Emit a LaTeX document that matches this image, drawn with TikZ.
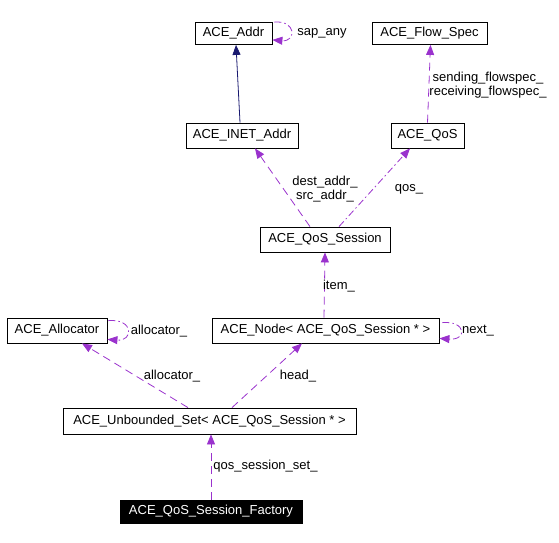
\documentclass[tikz,border=0pt]{standalone}
\usepackage{fontspec}
\setmainfont{Liberation Sans}
\usetikzlibrary{positioning, arrows.meta}
\definecolor{usecol}{HTML}{9A32CD}
\definecolor{inhcol}{HTML}{191970}

\begin{document}
\begin{tikzpicture}[x=1pt, y=-1pt,
        every node/.style={font=\fontsize{13}{14}\selectfont},
        cls/.style={draw, rectangle, inner sep=0pt, minimum height=25pt, line width=0.8pt},
        lbl/.style={inner sep=0pt, align=center},
        inh/.style={inhcol, line width=0.8pt, -{Triangle[length=10pt, width=8pt]}},
        uses/.style={usecol, line width=0.8pt, dash pattern=on 8pt off 5pt, -{Triangle[length=10pt, width=8pt]}},
        usesdot/.style={uses, dash pattern=on 7pt off 3pt on 1.5pt off 3pt}]
        \useasboundingbox (0,0) rectangle (559,542);

        \node[cls, minimum width=77pt, minimum height=22pt] (addr) at (233.5,33.5) {ACE\_Addr};
        \node[cls, minimum width=115pt, minimum height=22pt] (flow) at (429.5,33.5) {ACE\_Flow\_Spec};
        \node[cls, minimum width=112pt] (inet) at (242,135.5) {ACE\_INET\_Addr};
        \node[cls, minimum width=73pt] (qos) at (427.5,135.5) {ACE\_QoS};
        \node[cls, minimum width=130pt] (sess) at (325,239.5) {ACE\_QoS\_Session};
        \node[cls, minimum width=100pt] (alloc) at (57,330.5) {ACE\_Allocator};
        \node[cls, minimum width=227pt] (node) at (325.5,330.5) {ACE\_Node< ACE\_QoS\_Session * >};
        \node[cls, minimum width=293pt, minimum height=26pt] (uset) at (209.5,421) {ACE\_Unbounded\_Set< ACE\_QoS\_Session * >};
        \node[cls, fill=black, text=white, minimum width=182pt, minimum height=23pt] (fact) at (211,511.5) {ACE\_QoS\_Session\_Factory};

        % inheritance
        \draw[inh] ([shift={(-2,0)}]inet.north) -- ([shift={(2.5,0)}]addr.south);

        % usage relations
        \draw[uses] (qos.north) -- ([shift={(1,0)}]flow.south);
        \draw[uses] ([shift={(-15,0)}]sess.north) -- ([shift={(13,0)}]inet.south);
        \draw[usesdot] ([shift={(14,0)}]sess.north) -- ([shift={(-17.5,0)}]qos.south);
        \draw[uses] ([shift={(-1.5,0)}]node.north) -- (sess.south);
        \draw[uses] ([shift={(-21.5,0)}]uset.north) -- ([shift={(25,0)}]alloc.south);
        \draw[uses] ([shift={(22.5,0)}]uset.north) -- ([shift={(-23.5,0)}]node.south);
        \draw[uses] (fact.north) -- ([shift={(1.5,0)}]uset.south);

        % self loops
        \draw[usesdot] ([shift={(2,0)}]addr.north east) .. controls +(22,-2) and +(24,2) .. ([shift={(0,-5)}]addr.south east);
        \draw[usesdot] ([shift={(1,3)}]alloc.north east) .. controls +(26,-2) and +(26,2) .. ([shift={(0,-4)}]alloc.south east);
        \draw[usesdot] ([shift={(3,5)}]node.north east) .. controls +(24,-2) and +(28,2) .. ([shift={(0,-5)}]node.south east);

        % labels
        \node[lbl] (lsap) at (322,33) {sap\_any};
        \node[lbl] (lflow) at (488,85) {sending\_flowspec\_\\receiving\_flowspec\_};
        \node[lbl] (laddr) at (325,189) {dest\_addr\_\\src\_addr\_};
        \node[lbl] (lqos) at (409,189) {qos\_};
        \node[lbl] (litem) at (339,286) {item\_};
        \node[lbl] (lalloc) at (159,331) {allocator\_};
        \node[lbl] (lnext) at (478,331) {next\_};
        \node[lbl] (lalloc2) at (172,376) {allocator\_};
        \node[lbl] (lhead) at (298,376) {head\_};
        \node[lbl] (lset) at (265.5,466) {qos\_session\_set\_};
\end{tikzpicture}
\end{document}
